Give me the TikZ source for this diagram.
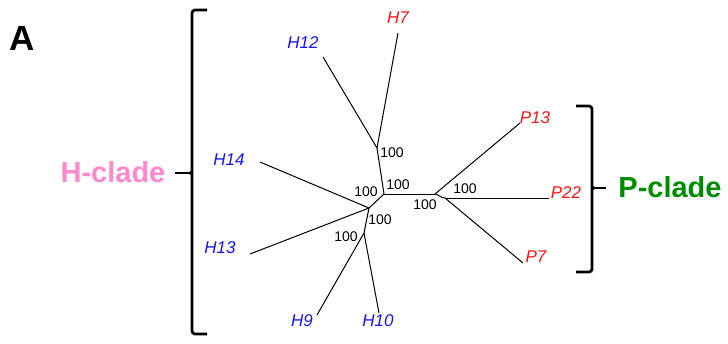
\documentclass[tikz,border=0pt]{standalone}
\usepackage{fontspec}
\setmainfont{Liberation Sans}
\definecolor{leafblue}{RGB}{20,20,250}
\definecolor{leafred}{RGB}{250,20,20}
\definecolor{hpink}{RGB}{255,135,205}
\definecolor{pgreen}{RGB}{0,140,0}
\begin{document}
\begin{tikzpicture}[x=1pt,y=-1pt,
  branch/.style={line width=1pt},
  hleaf/.style={font=\fontsize{17}{19}\selectfont\itshape,text=leafblue,inner sep=0pt},
  rleaf/.style={font=\fontsize{17}{19}\selectfont\itshape,text=leafred,inner sep=0pt},
  boot/.style={font=\fontsize{14}{16}\selectfont,inner sep=0pt},
  clade/.style={font=\fontsize{29}{32}\selectfont\bfseries,inner sep=0pt},
  bracket/.style={line width=2.8pt,rounded corners=3pt}]
\useasboundingbox (0,0) rectangle (728,343);

% internal nodes of the tree
\coordinate (nA) at (377,148);
\coordinate (nB) at (384,194);
\coordinate (nC) at (369,208);
\coordinate (nD) at (364,233);
\coordinate (nE) at (435,194);
\coordinate (nF) at (445,198);

% branch tips
\coordinate (tH7)  at (398,33);
\coordinate (tH12) at (323,57);
\coordinate (tH14) at (260,162);
\coordinate (tH13) at (250,254);
\coordinate (tH9)  at (317,315);
\coordinate (tH10) at (379,313);
\coordinate (tP13) at (520,123);
\coordinate (tP22) at (549,198);
\coordinate (tP7)  at (523,263);

% branches
\draw[branch] (nA) -- (tH7);
\draw[branch] (nA) -- (tH12);
\draw[branch] (nA) -- (nB);
\draw[branch] (nB) -- (nE);
\draw[branch] (nB) -- (nC);
\draw[branch] (nC) -- (tH14);
\draw[branch] (nC) -- (tH13);
\draw[branch] (nC) -- (nD);
\draw[branch] (nD) -- (tH9);
\draw[branch] (nD) -- (tH10);
\draw[branch] (nE) -- (tP13);
\draw[branch] (nE) to[out=-10,in=180] (nF);
\draw[branch] (nF) -- (tP22);
\draw[branch] (nF) -- (tP7);

% leaf labels
\node[rleaf] (H7)  at (398,18)  {H7};
\node[hleaf] (H12) at (303,43)  {H12};
\node[hleaf] (H14) at (229,160) {H14};
\node[hleaf] (H13) at (220,248) {H13};
\node[hleaf] (H9)  at (302,321) {H9};
\node[hleaf] (H10) at (378,321) {H10};
\node[rleaf] (P13) at (535,118) {P13};
\node[rleaf] (P22) at (566,193) {P22};
\node[rleaf] (P7)  at (536,257) {P7};

% bootstrap values
\node[boot] (bA) at (392,153) {100};
\node[boot] (bB1) at (398,185) {100};
\node[boot] (bB2) at (366,192) {100};
\node[boot] (bC) at (380,220) {100};
\node[boot] (bD) at (346,237) {100};
\node[boot] (bE) at (425,205) {100};
\node[boot] (bF) at (465,189) {100};

% clade brackets: a square bracket with a short stub at its middle
\draw[bracket] (207,10) -- (192,10) -- (192,334) -- (207,334);
\draw[line width=2.8pt] (175,173) -- (192,173);
\draw[line width=1.6pt] (192,168) .. controls (192,172) .. (188,173)
                        .. controls (192,174) .. (192,178);
\draw[bracket] (576,106) -- (592,106) -- (592,272) -- (576,272);
\draw[line width=2.8pt] (592,188) -- (606,188);
\draw[line width=1.6pt] (592,183) .. controls (592,187) .. (596,188)
                        .. controls (592,189) .. (592,193);

% clade names and panel letter
\node[clade,text=hpink] (hclade) at (113,172) {H-clade};
\node[clade,text=pgreen] (pclade) at (670,187) {P-clade};
\node[font=\fontsize{35}{38}\selectfont\bfseries,inner sep=0pt] (panel) at (22,38) {A};
\end{tikzpicture}
\end{document}
